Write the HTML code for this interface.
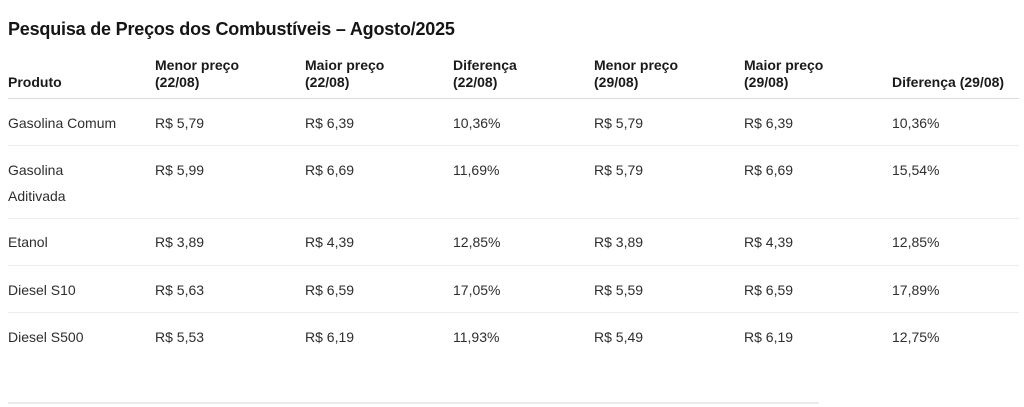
<!DOCTYPE html>
<html><head><meta charset="utf-8"><style>
html,body{margin:0;padding:0;background:#fff;width:1024px;height:407px;overflow:hidden;position:relative;font-family:"Liberation Sans",Arial,sans-serif;}
.t{position:absolute;left:8px;top:19px;font-size:18px;line-height:20px;font-weight:bold;color:#151515;white-space:nowrap;letter-spacing:-0.2px;}
.h{position:absolute;font-size:14px;line-height:17px;font-weight:bold;color:#1a1a1a;white-space:nowrap;}
.c{position:absolute;font-size:14px;line-height:26px;color:#2e2e2e;white-space:nowrap;}
.l{position:absolute;left:8px;width:1011px;height:1px;background:#ececec;}
</style></head><body>
<div class="t">Pesquisa de Preços dos Combustíveis – Agosto/2025</div>

<div class="h" style="left:8px;top:74px">Produto</div>
<div class="h" style="left:155px;top:57px">Menor preço<br>(22/08)</div>
<div class="h" style="left:305px;top:57px">Maior preço<br>(22/08)</div>
<div class="h" style="left:453px;top:57px">Diferença<br>(22/08)</div>
<div class="h" style="left:594px;top:57px">Menor preço<br>(29/08)</div>
<div class="h" style="left:744px;top:57px">Maior preço<br>(29/08)</div>
<div class="h" style="left:892px;top:74px">Diferença (29/08)</div>

<div class="l" style="top:98px;background:#dcdcdc"></div>
<div class="l" style="top:145px"></div>
<div class="l" style="top:218px"></div>
<div class="l" style="top:265px"></div>
<div class="l" style="top:312px"></div>
<div class="l" style="top:402px;width:811px;height:2px;background:#ebebeb"></div>

<div class="c" style="left:8px;top:110px">Gasolina Comum</div>
<div class="c" style="left:155px;top:110px">R$ 5,79</div>
<div class="c" style="left:305px;top:110px">R$ 6,39</div>
<div class="c" style="left:453px;top:110px">10,36%</div>
<div class="c" style="left:594px;top:110px">R$ 5,79</div>
<div class="c" style="left:744px;top:110px">R$ 6,39</div>
<div class="c" style="left:892px;top:110px">10,36%</div>

<div class="c" style="left:8px;top:157px">Gasolina<br>Aditivada</div>
<div class="c" style="left:155px;top:157px">R$ 5,99</div>
<div class="c" style="left:305px;top:157px">R$ 6,69</div>
<div class="c" style="left:453px;top:157px">11,69%</div>
<div class="c" style="left:594px;top:157px">R$ 5,79</div>
<div class="c" style="left:744px;top:157px">R$ 6,69</div>
<div class="c" style="left:892px;top:157px">15,54%</div>

<div class="c" style="left:8px;top:229px">Etanol</div>
<div class="c" style="left:155px;top:229px">R$ 3,89</div>
<div class="c" style="left:305px;top:229px">R$ 4,39</div>
<div class="c" style="left:453px;top:229px">12,85%</div>
<div class="c" style="left:594px;top:229px">R$ 3,89</div>
<div class="c" style="left:744px;top:229px">R$ 4,39</div>
<div class="c" style="left:892px;top:229px">12,85%</div>

<div class="c" style="left:8px;top:277px">Diesel S10</div>
<div class="c" style="left:155px;top:277px">R$ 5,63</div>
<div class="c" style="left:305px;top:277px">R$ 6,59</div>
<div class="c" style="left:453px;top:277px">17,05%</div>
<div class="c" style="left:594px;top:277px">R$ 5,59</div>
<div class="c" style="left:744px;top:277px">R$ 6,59</div>
<div class="c" style="left:892px;top:277px">17,89%</div>

<div class="c" style="left:8px;top:324px">Diesel S500</div>
<div class="c" style="left:155px;top:324px">R$ 5,53</div>
<div class="c" style="left:305px;top:324px">R$ 6,19</div>
<div class="c" style="left:453px;top:324px">11,93%</div>
<div class="c" style="left:594px;top:324px">R$ 5,49</div>
<div class="c" style="left:744px;top:324px">R$ 6,19</div>
<div class="c" style="left:892px;top:324px">12,75%</div>
</body></html>
